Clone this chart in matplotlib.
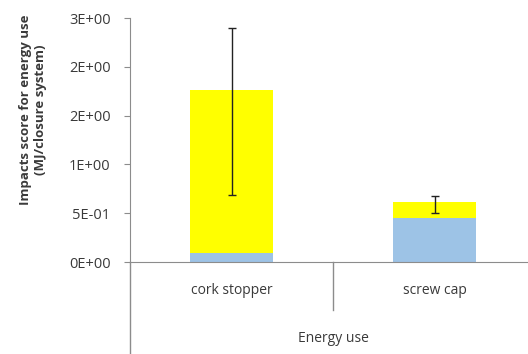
import matplotlib.pyplot as plt

# Data
categories = ['cork stopper', 'screw cap']
blue_part = [0.09, 0.45]
yellow_part = [1.67, 0.165]
err_low = [1.07, 0.115]
err_high = [0.64, 0.06]

y_ticks = [0, 0.5, 1.0, 1.5, 2.0, 2.5]
y_tick_labels = ['0E+00', '5E-01', '1E+00', '2E+00', '2E+00', '3E+00']

plt.rcParams['font.family'] = ['Open Sans', 'DejaVu Sans']
axis_grey = '#8c8c8c'
text_grey = '#3a3a3a'

fig = plt.figure(figsize=(5.28, 3.54), dpi=100)
ax = fig.add_axes([130 / 528, 92 / 354, 406 / 528, 244 / 354])

x = range(len(categories))
totals = [b + y for b, y in zip(blue_part, yellow_part)]
ax.bar(x, blue_part, width=0.404, color='#9dc3e6')
ax.bar(x, yellow_part, width=0.404, bottom=blue_part, color='#ffff00')
ax.errorbar(x, totals, yerr=[err_low, err_high], fmt='none',
            ecolor='#222222', elinewidth=1, capsize=3, capthick=1)

ax.set_xlim(-0.5, 1.5)
ax.set_ylim(0, 2.5)
ax.set_yticks(y_ticks)
ax.set_yticklabels(y_tick_labels)
ax.set_xticks(list(x))
ax.set_xticklabels(categories)

for s in ['top', 'right']:
    ax.spines[s].set_visible(False)
for s in ['left', 'bottom']:
    ax.spines[s].set_color(axis_grey)

ax.tick_params(axis='y', colors=axis_grey, labelcolor=text_grey, labelsize=10.5,
               length=4, direction='out', pad=10)
ax.tick_params(axis='x', length=0, labelcolor=text_grey, labelsize=10, pad=15)

ax.set_ylabel('Impacts score for energy use\n(MJ/closure system)',
              fontsize=9.5, fontweight='bold', color=text_grey)
ax.yaxis.set_label_coords(-0.204, 0.623)
ax.set_xlabel('Energy use', fontsize=10, color=text_grey, labelpad=24)

# multi-level category axis lines
tr = ax.get_xaxis_transform()
ax.plot([0.5, 0.5], [0, -0.197], transform=tr, color=axis_grey, lw=1, clip_on=False)
ax.plot([-0.5, -0.5], [0, -0.38], transform=tr, color=axis_grey, lw=1, clip_on=False)

fig.savefig('out.png', dpi=100)
